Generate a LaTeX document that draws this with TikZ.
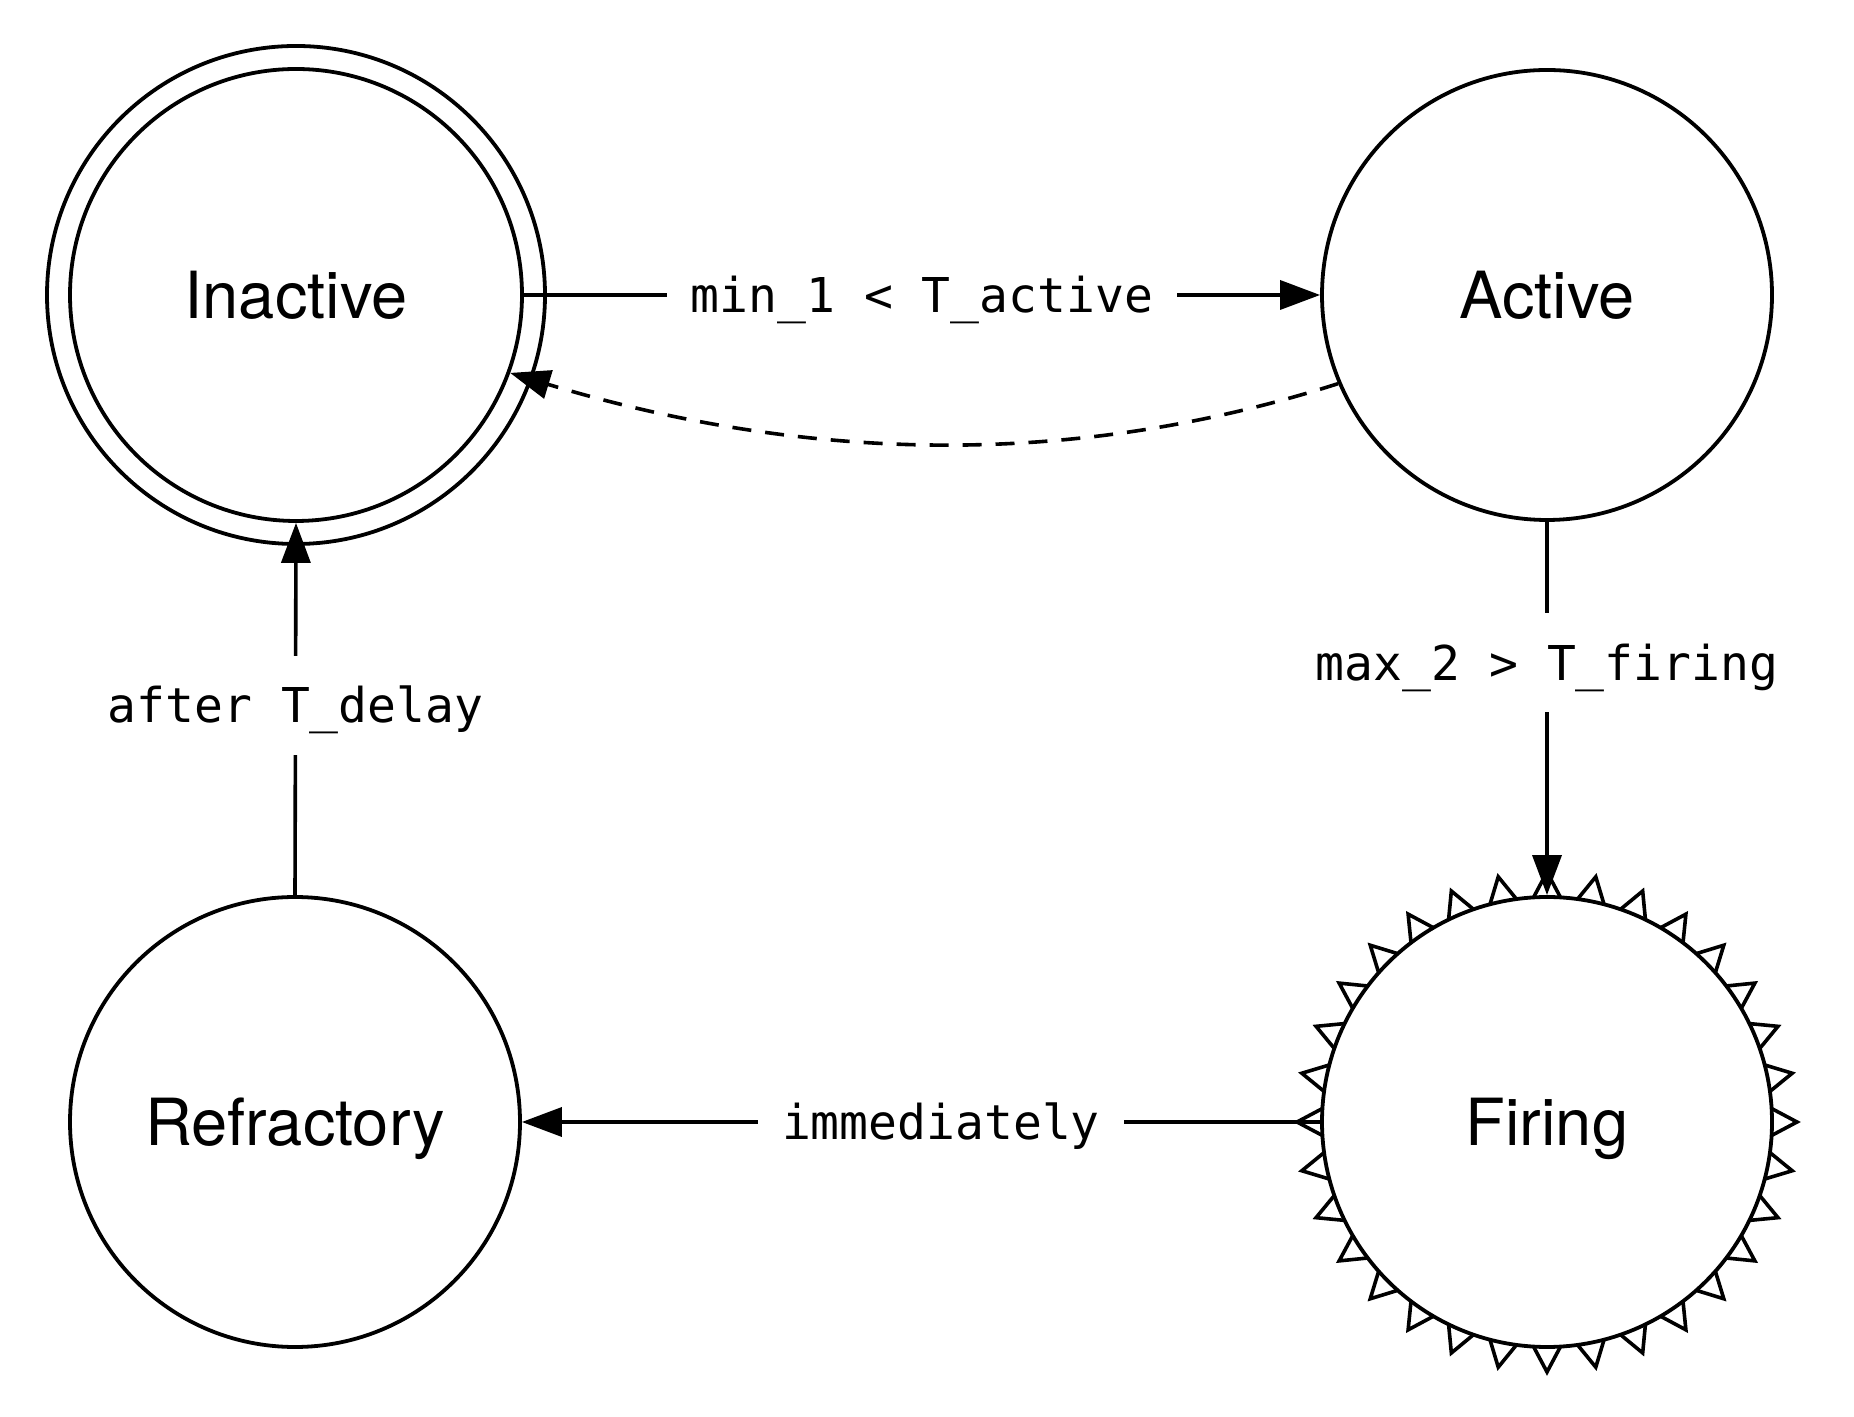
\documentclass[tikz,border=0pt]{standalone}
\usepackage{fontspec}
\setmainfont{TeX Gyre Heros}
\newfontfamily\lblfont{DejaVu Sans Mono}
\usetikzlibrary{arrows.meta}
\begin{document}
\begin{tikzpicture}[x=1pt,y=1pt,
  state/.style={circle, draw, line width=3.8pt, minimum size=450pt, inner sep=0pt,
    text height=47pt, text depth=0pt, font=\fontsize{65}{78}\selectfont},
  lbl/.style={fill=white, font=\lblfont\fontsize{48}{58}\selectfont,
    inner xsep=24pt, inner ysep=27pt, text height=40pt, text depth=5pt},
  tr/.style={line width=3.6pt, -{Triangle[length=40pt,width=29pt]}},
  spike/.style={line width=3.6pt, line join=miter},
]
\useasboundingbox (0,0) rectangle (1854,1416);
\node[circle, draw, line width=3.8pt, minimum size=498pt, inner sep=0pt] (inaout) at (296,1121) {};
\node[state, minimum size=452pt] (ina) at (296,1121) {Inactive};
\node[state] (act) at (1547,1121) {Active};
\node[state] (ref) at (295,294) {Refractory};
\node[state] (fir) at (1547,294) {Firing};
\foreach \a in {0,11.25,...,350}
  \draw[spike, shift={(fir.center)}] (\a-3.44:225) -- (\a:250) -- (\a+3.44:225);
\draw[tr] (ina.east) -- node[lbl] {min\_1 < T\_active} (act.west);
\draw[tr] (act.south) -- node[lbl, pos=0.378] {max\_2 > T\_firing} (fir.north);
\draw[tr] (fir.west) -- node[lbl, pos=0.475] {immediately} (ref.east);
\draw[tr] (ref.north) -- node[lbl, pos=0.51] {after T\_delay} (ina.south);
\draw[tr, dash pattern=on 19pt off 14pt] (act.203.8) .. controls +(197.7:250) and +(-16.8:340) .. (ina.-20.8);
\end{tikzpicture}
\end{document}
